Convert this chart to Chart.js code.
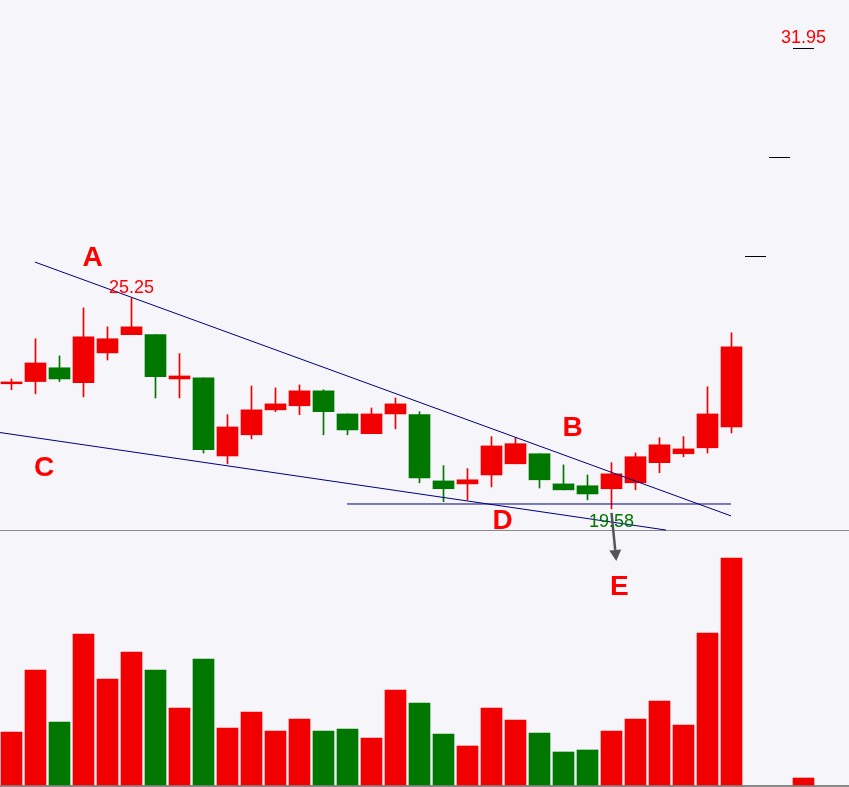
<!DOCTYPE html>
<html>
<head>
<meta charset="utf-8">
<script src="https://cdn.jsdelivr.net/npm/chart.js@4.4.1/dist/chart.umd.min.js"></script>
<style>
  html, body { margin: 0; padding: 0; background: #f5f5fa; }
  canvas { display: block; }
</style>
</head>
<body>
<canvas id="kline" width="849" height="787"></canvas>
<script>
// daily candles, last three are one-price limit-up days
const opens   = [22.94, 23.00, 23.37, 22.97, 23.77, 24.26, 24.26, 23.07, 23.10, 21.00, 21.57, 22.24, 22.35, 22.75, 22.13, 21.60, 22.13, 22.11, 20.33, 20.25, 20.49, 20.79, 21.06, 20.25, 20.20, 20.12, 20.28, 20.82, 21.06, 21.22, 21.78, 26.36, 29.02, 31.95];
const highs   = [23.07, 24.15, 23.69, 24.98, 24.47, 25.25, 24.26, 23.75, 23.10, 22.11, 22.88, 22.83, 22.91, 22.78, 22.13, 22.29, 22.56, 22.19, 20.74, 20.66, 21.52, 21.49, 21.06, 20.76, 20.49, 20.82, 21.08, 21.49, 21.52, 22.86, 24.31, 26.36, 29.02, 31.95];
const lows    = [22.78, 22.67, 23.00, 22.59, 23.58, 24.26, 22.56, 22.56, 21.08, 20.79, 21.46, 22.19, 22.11, 21.57, 21.57, 21.60, 21.73, 20.28, 19.77, 19.82, 20.17, 20.79, 20.14, 20.09, 19.82, 19.58, 20.09, 20.55, 20.98, 21.08, 21.62, 26.36, 29.02, 31.95];
const closes  = [22.99, 23.50, 23.07, 24.20, 24.15, 24.47, 23.13, 23.15, 21.17, 21.78, 22.24, 22.40, 22.75, 22.19, 21.70, 22.13, 22.40, 20.41, 20.12, 20.36, 21.27, 21.33, 20.36, 20.09, 19.98, 20.52, 20.98, 21.30, 21.19, 22.13, 23.93, 26.36, 29.02, 31.95];
const volumes = [5.3, 11.5, 6.3, 15.1, 10.6, 13.3, 11.5, 7.7, 12.6, 5.7, 7.3, 5.4, 6.6, 5.4, 5.6, 4.7, 9.5, 8.2, 5.1, 3.9, 7.7, 6.5, 5.2, 3.3, 3.5, 5.4, 6.6, 8.4, 6.0, 15.2, 22.7, 0, 0, 0.7];

// hand drawn lines (candle index, price)
const upperLine   = [[0.979, 26.21], [29.98, 19.39]];
const lowerLine   = [[-0.479, 21.63], [27.27, 19.01]];
const supportLine = [[13.98, 19.71], [29.98, 19.71]];

// big letters
const letterText = ['A', 'B', 'C', 'D', 'E'];
const letterX    = [3.375, 23.375, 1.354, 20.46, 25.33];
const letterY    = [26.11, 21.54, 20.47, 19.04, 17.27];

// price marks: candle index, above/below
const markIdx = [5, 25, 33];
const markPos = ['high', 'low', 'high'];

// arrow under the low
const arrowFrom = [25, 19.47];
const arrowTo   = [25.2, 18.18];

const RED = '#f00000';
const GREEN = '#007800';
const NAVY = '#000080';

const idx = opens.map((_, i) => i);
const isFlat = i => highs[i] === lows[i];
const candleColor = i => closes[i] > opens[i] ? RED : closes[i] < opens[i] ? GREEN
    : (i > 0 && closes[i] < closes[i - 1] ? GREEN : RED);

const normal = idx.filter(i => !isFlat(i));
const flat = idx.filter(i => isFlat(i));
const volIdx = idx.filter(i => volumes[i] > 0);

const toPts = arr => arr.map(p => ({ x: p[0], y: p[1] }));
const lineDs = pts => ({
    type: 'line',
    data: toPts(pts),
    borderColor: NAVY,
    borderWidth: 1,
    pointRadius: 0,
    yAxisID: 'y',
    order: 0
});

const overlay = {
    id: 'overlay',
    beforeDraw(chart) {
        const { ctx, width, height } = chart;
        const yv = chart.scales.yVol;
        ctx.save();
        ctx.fillStyle = '#f5f5fa';
        ctx.fillRect(0, 0, width, height);
        ctx.fillStyle = '#8a8a8a';
        // panel separator and volume base line
        ctx.fillRect(0, Math.round(yv.getPixelForValue(25.5)), width, 1);
        ctx.fillRect(0, Math.round(yv.getPixelForValue(0)), width, 2);
        ctx.restore();
    },
    afterDatasetsDraw(chart) {
        const { ctx } = chart;
        const xs = chart.scales.x, ys = chart.scales.y;
        ctx.save();

        // arrow
        const x1 = xs.getPixelForValue(arrowFrom[0]), y1 = ys.getPixelForValue(arrowFrom[1]);
        const x2 = xs.getPixelForValue(arrowTo[0]), y2 = ys.getPixelForValue(arrowTo[1]);
        const ang = Math.atan2(y2 - y1, x2 - x1);
        const hl = 11, hw = 6;
        const bx = x2 - Math.cos(ang) * hl, by = y2 - Math.sin(ang) * hl;
        ctx.strokeStyle = '#555555';
        ctx.fillStyle = '#555555';
        ctx.lineWidth = 2.5;
        ctx.beginPath();
        ctx.moveTo(x1, y1);
        ctx.lineTo(bx, by);
        ctx.stroke();
        ctx.beginPath();
        ctx.moveTo(x2, y2);
        ctx.lineTo(bx + Math.sin(ang) * hw, by - Math.cos(ang) * hw);
        ctx.lineTo(bx - Math.sin(ang) * hw, by + Math.cos(ang) * hw);
        ctx.closePath();
        ctx.fill();

        // letters
        ctx.textAlign = 'center';
        ctx.textBaseline = 'alphabetic';
        ctx.font = 'bold 28px "Liberation Sans", Arial, sans-serif';
        ctx.fillStyle = '#ff0000';
        letterText.forEach((t, k) => {
            ctx.fillText(t, xs.getPixelForValue(letterX[k]), ys.getPixelForValue(letterY[k]));
        });

        // price marks
        ctx.font = '18px "Liberation Sans", Arial, sans-serif';
        markIdx.forEach((i, k) => {
            const px = xs.getPixelForValue(i);
            if (markPos[k] === 'high') {
                ctx.fillStyle = '#ff0000';
                ctx.fillText(highs[i].toFixed(2), px, ys.getPixelForValue(highs[i]) - 5);
            } else {
                ctx.fillStyle = GREEN;
                ctx.fillText(lows[i].toFixed(2), px, ys.getPixelForValue(lows[i]) + 18);
            }
        });
        ctx.restore();
    }
};

new Chart(document.getElementById('kline'), {
    type: 'bar',
    data: {
        datasets: [
            lineDs(upperLine),
            lineDs(lowerLine),
            lineDs(supportLine),
            {
                // bodies
                data: normal.map(i => ({ x: i, y: [opens[i], closes[i]] })),
                backgroundColor: normal.map(candleColor),
                barThickness: 21,
                minBarLength: 1,
                grouped: false,
                yAxisID: 'y',
                order: 1
            },
            {
                // wicks
                data: normal.map(i => ({ x: i, y: [lows[i], highs[i]] })),
                backgroundColor: normal.map(candleColor),
                barThickness: 1,
                grouped: false,
                yAxisID: 'y',
                order: 2
            },
            {
                // one-price days
                type: 'line',
                showLine: false,
                data: flat.map(i => ({ x: i, y: closes[i] })),
                pointStyle: 'line',
                pointRadius: 10.5,
                pointBorderColor: '#000000',
                pointBorderWidth: 1,
                yAxisID: 'y',
                order: 1
            },
            {
                // volume
                data: volIdx.map(i => ({ x: i, y: volumes[i] })),
                backgroundColor: volIdx.map(candleColor),
                barThickness: 21,
                grouped: false,
                yAxisID: 'yVol',
                order: 3
            }
        ]
    },
    options: {
        responsive: false,
        animation: false,
        devicePixelRatio: 1,
        layout: { padding: 0, autoPadding: false },
        scales: {
            x: { type: 'linear', min: -0.479, max: 34.896, offset: false, display: false },
            y: { type: 'linear', min: 12.105, max: 33.253, display: false },
            yVol: { type: 'linear', min: -0.2, max: 78.5, display: false }
        },
        plugins: {
            legend: { display: false },
            tooltip: { enabled: false }
        }
    },
    plugins: [overlay]
});
</script>
</body>
</html>
